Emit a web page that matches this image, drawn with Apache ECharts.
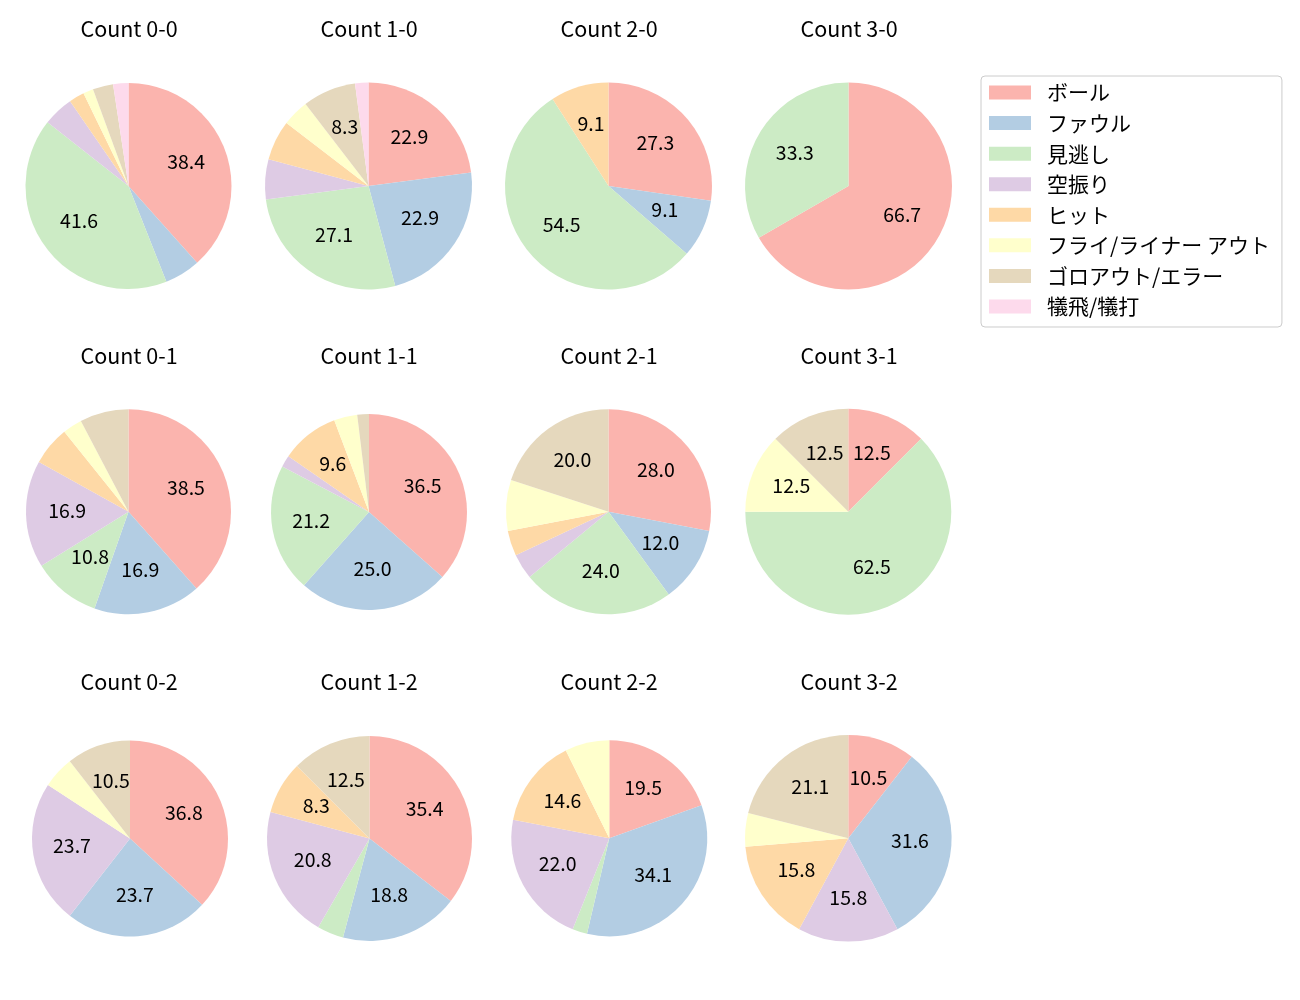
<!DOCTYPE html>
<html>
<head>
<meta charset="utf-8">
<script src="https://cdn.jsdelivr.net/npm/echarts@6/dist/echarts.min.js"></script>
<style>
html,body{margin:0;padding:0;background:#fff;}
#chart{width:1300px;height:1000px;}
</style>
</head>
<body>
<div id="chart"></div>
<script>
// Categories (legend order)
const categories = ['ボール', 'ファウル', '見逃し', '空振り', 'ヒット', 'フライ/ライナー アウト', 'ゴロアウト/エラー', '犠飛/犠打'];
const colors = ['#fbb4ae', '#b3cde3', '#ccebc5', '#decbe4', '#fed9a6', '#ffffcc', '#e5d8bd', '#fddaec'];

// Pitch counts per ball-strike count (order of categories)
const count00 = [48, 7, 52, 6, 3, 2, 4, 3];
const count10 = [11, 11, 13, 3, 3, 2, 4, 1];
const count20 = [3, 1, 6, 0, 1, 0, 0, 0];
const count30 = [2, 0, 1, 0, 0, 0, 0, 0];
const count01 = [25, 11, 7, 11, 4, 2, 5, 0];
const count11 = [19, 13, 11, 1, 5, 2, 1, 0];
const count21 = [7, 3, 6, 1, 1, 2, 5, 0];
const count31 = [1, 0, 5, 0, 0, 1, 1, 0];
const count02 = [14, 9, 0, 9, 0, 2, 4, 0];
const count12 = [17, 9, 2, 10, 4, 0, 6, 0];
const count22 = [8, 14, 1, 9, 6, 3, 0, 0];
const count32 = [2, 6, 0, 3, 3, 1, 4, 0];

const panelTitles = ['Count 0-0', 'Count 1-0', 'Count 2-0', 'Count 3-0',
                     'Count 0-1', 'Count 1-1', 'Count 2-1', 'Count 3-1',
                     'Count 0-2', 'Count 1-2', 'Count 2-2', 'Count 3-2'];
const panelData = [count00, count10, count20, count30,
                   count01, count11, count21, count31,
                   count02, count12, count22, count32];

// layout
const colX = [128.5, 368.5, 608.5, 848.5];
const rowY = [186, 511.7, 838.3];
const titleY = [29, 356, 682];
const radii = [103, 103.5, 103.5, 103.5,
               102.5, 98, 102.5, 103,
               98, 102.5, 98, 103.3];
const centerAdj = {5: [369, 512], 8: [130, 838.5], 9: [369.5, 838.5], 10: [609.3, 838.3], 7: [848.3, 511.7], 11: [848.3, 838.3]};

const FONT = '"Noto Sans CJK JP", "Noto Sans", sans-serif';

const pieSeries = [];
const labelSeries = [];
const titles = [];
panelData.forEach(function (vals, i) {
  const col = i % 4, row = Math.floor(i / 4);
  const c = centerAdj[i] || [colX[col], rowY[row]];
  const r = radii[i];
  const total = vals.reduce(function (a, b) { return a + b; }, 0);
  const data = categories.map(function (name, k) {
    return {name: name, value: vals[k], itemStyle: {color: colors[k]}};
  });
  pieSeries.push({
    type: 'pie',
    center: c,
    radius: [0, r],
    startAngle: 90,
    clockwise: true,
    silent: true,
    animation: false,
    label: {show: false},
    labelLine: {show: false},
    itemStyle: {borderWidth: 0},
    emphasis: {disabled: true},
    data: data
  });
  labelSeries.push({
    type: 'pie',
    center: [c[0], c[1] - 2.5],
    radius: [0.14 * r, r],
    startAngle: 90,
    clockwise: true,
    silent: true,
    animation: false,
    avoidLabelOverlap: false,
    itemStyle: {color: 'rgba(0,0,0,0)', borderWidth: 0},
    label: {
      show: true,
      position: 'inside',
      fontFamily: FONT,
      fontSize: 19.5,
      color: '#000',
      formatter: function (p) {
        const pct = p.value / total * 100;
        return pct > 8 ? pct.toFixed(1) : '';
      }
    },
    labelLine: {show: false},
    emphasis: {disabled: true},
    data: categories.map(function (name, k) {
      return {name: name, value: vals[k], itemStyle: {color: 'rgba(0,0,0,0)'}};
    })
  });
  titles.push({
    text: panelTitles[i],
    left: colX[col] + 0.5,
    top: titleY[row] - 11,
    textAlign: 'center',
    padding: 0,
    textStyle: {fontFamily: FONT, fontSize: 21.5, fontWeight: 'normal', color: '#000', lineHeight: 22}
  });
});

const chart = echarts.init(document.getElementById('chart'), null, {renderer: 'canvas'});
chart.setOption({
  backgroundColor: '#fff',
  animation: false,
  title: titles,
  legend: {
    data: categories,
    orient: 'vertical',
    left: 981,
    top: 76,
    padding: [6, 12, 10, 8],
    itemWidth: 42,
    itemHeight: 14,
    itemGap: 9.57,
    icon: 'rect',
    selectedMode: false,
    borderColor: '#cccccc',
    borderWidth: 1,
    borderRadius: 4,
    textStyle: {fontFamily: FONT, fontSize: 21, color: '#000', lineHeight: 21, padding: [0, 0, 0, 11]}
  },
  series: pieSeries.concat(labelSeries)
});
</script>
</body>
</html>
